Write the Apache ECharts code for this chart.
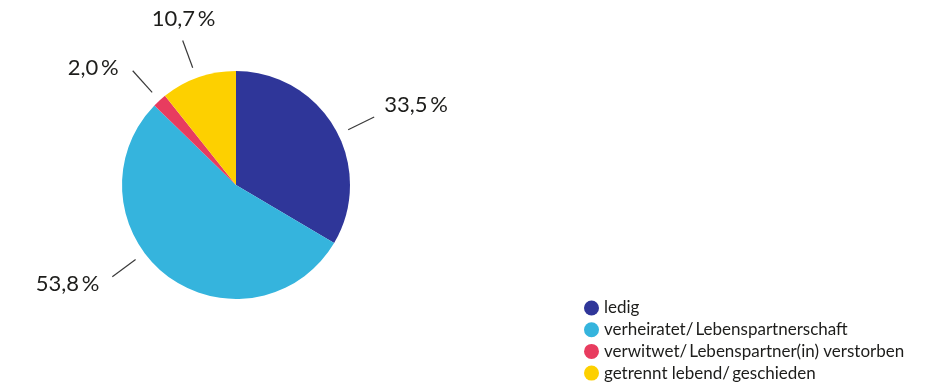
<!DOCTYPE html>
<html>
<head>
<meta charset="utf-8">
<script src="https://cdn.jsdelivr.net/npm/echarts@6/dist/echarts.min.js"></script>
<style>
  html, body { margin: 0; padding: 0; background: #ffffff; }
  #chart { width: 938px; height: 385px; }
</style>
</head>
<body>
<div id="chart"></div>
<script>
// Familienstand – Anteile in Prozent
const categories = [
  'ledig',
  'verheiratet/\u2009Lebenspartnerschaft',
  'verwitwet/\u2009Lebenspartner(in) verstorben',
  'getrennt lebend/\u2009geschieden'
];
const shares = [33.5, 53.8, 2.0, 10.7];
const colors = ['#2f3699', '#35b4dd', '#e83c5f', '#fdd000'];

const CENTER = [236, 185];
const RADIUS = 114;

// label line tweaks per slice: angle shift (deg, clockwise), label placement
const lineShift = [3.5, 16, 0, -1];
const labelPlace = [
  { align: 'left',   dx: 10,  dy: -12 },
  { align: 'right',  dx: -13, dy: 7 },
  { align: 'right',  dx: -14, dy: -3 },
  { align: 'center', dx: 1,   dy: -22 }
];

const fmt = v => v.toFixed(1).replace('.', ',') + '\u2009%';

const pieData = categories.map((name, i) => ({
  name,
  value: shares[i],
  itemStyle: { color: colors[i] }
}));

const chart = echarts.init(document.getElementById('chart'), null, { renderer: 'canvas' });

chart.setOption({
  animation: false,
  legend: {
    orient: 'vertical',
    left: 584,
    top: 299.5,
    height: 120,
    padding: 0,
    icon: 'circle',
    itemWidth: 15,
    itemHeight: 15,
    itemGap: 4.7,
    textStyle: {
      fontFamily: 'Lato', fontSize: 17, lineHeight: 15,
      color: '#1d1d1b', padding: [0, 0, 0, 0]
    },
    data: categories
  },
  series: [{
    type: 'pie',
    center: CENTER,
    radius: RADIUS,
    startAngle: 90,
    clockwise: true,
    silent: true,
    label: {
      show: true,
      position: 'outside',
      formatter: p => fmt(p.value),
      fontFamily: 'Lato',
      fontSize: 22,
      color: '#1d1d1b'
    },
    labelLine: {
      show: true,
      length: 39,
      length2: 0,
      smooth: false,
      lineStyle: { color: '#3a3a3a', width: 1.2 }
    },
    labelLayout: function (params) {
      const pts = params.labelLinePoints;
      if (!pts) return {};
      const i = params.dataIndex;
      const p0 = pts[0], p1 = pts[1];
      let ux = p1[0] - p0[0], uy = p1[1] - p0[1];
      const len = Math.hypot(ux, uy) || 1;
      ux /= len; uy /= len;
      const cx = p0[0] - ux * RADIUS, cy = p0[1] - uy * RADIUS;
      const a = lineShift[i] * Math.PI / 180;
      const rx = ux * Math.cos(a) - uy * Math.sin(a);
      const ry = ux * Math.sin(a) + uy * Math.cos(a);
      const s = [cx + rx * (RADIUS + 11), cy + ry * (RADIUS + 11)];
      const e = [cx + rx * (RADIUS + 40), cy + ry * (RADIUS + 40)];
      const pl = labelPlace[i];
      return {
        x: e[0] + pl.dx,
        y: e[1] + pl.dy,
        align: pl.align,
        verticalAlign: 'middle',
        labelLinePoints: [s, e, e]
      };
    },
    data: pieData
  }]
});
</script>
</body>
</html>
